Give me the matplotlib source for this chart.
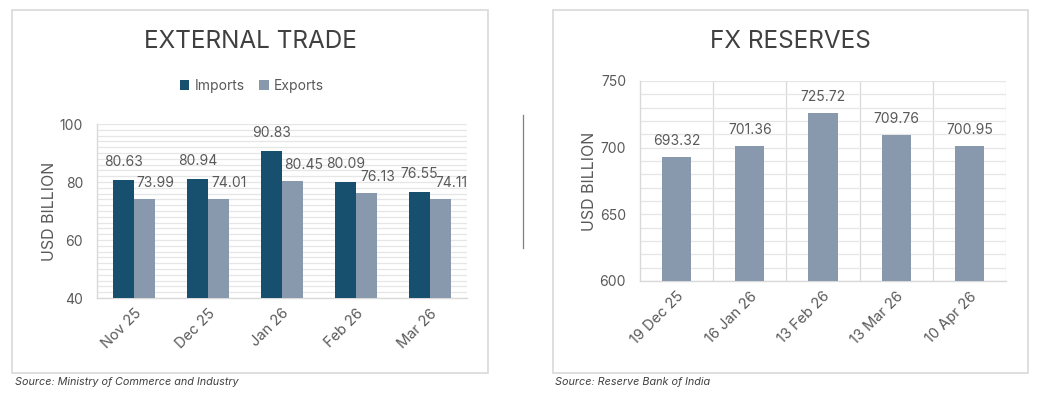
import matplotlib
matplotlib.use("Agg")
import matplotlib.pyplot as plt
from matplotlib.patches import Rectangle
from matplotlib.lines import Line2D
import numpy as np

# External trade (USD billion)
trade_months = ["Nov 25", "Dec 25", "Jan 26", "Feb 26", "Mar 26"]
imports = [80.63, 80.94, 90.83, 80.09, 76.55]
exports = [73.99, 74.01, 80.45, 76.13, 74.11]

# FX reserves (USD billion)
fx_dates = ["19 Dec 25", "16 Jan 26", "13 Feb 26", "13 Mar 26", "10 Apr 26"]
fx_reserves = [693.32, 701.36, 725.72, 709.76, 700.95]

imp_color = "#17506e"
exp_color = "#8899ad"
text_color = "#595959"
grid_color = "#e6e6e6"

plt.rcParams["font.family"] = ["Inter", "DejaVu Sans"]

W, H = 1043, 394
fig = plt.figure(figsize=(W / 100, H / 100), dpi=100)
fig.patch.set_facecolor("white")

def px(x0, y0, x1, y1):
    # pixel box -> figure fraction [left, bottom, width, height]
    return [x0 / W, 1 - y1 / H, (x1 - x0) / W, (y1 - y0) / H]

# panel frames
for x0, x1 in [(12, 488), (553, 1028)]:
    fig.patches.append(Rectangle((x0 / W, 1 - 373 / H), (x1 - x0) / W, 363 / H,
                                 transform=fig.transFigure, fill=False,
                                 edgecolor="#d9d9d9", linewidth=1.2))
# divider
fig.add_artist(Line2D([523 / W, 523 / W], [1 - 248 / H, 1 - 115 / H],
                      transform=fig.transFigure, color="#7f7f7f", linewidth=0.9))

# ---------------- External trade ----------------
ax1 = fig.add_axes(px(97, 124, 467, 298))
x = np.arange(len(trade_months))
bw = 0.285
b1 = ax1.bar(x - bw / 2, imports, bw, color=imp_color, label="Imports", zorder=3)
b2 = ax1.bar(x + bw / 2, exports, bw, color=exp_color, label="Exports", zorder=3)
ax1.set_ylim(40, 100)
ax1.set_xlim(-0.5, len(trade_months) - 0.5)
ax1.set_yticks([40, 60, 80, 100])
ax1.set_yticks(np.arange(40, 101, 2), minor=True)
ax1.grid(axis="y", which="both", color=grid_color, linewidth=0.9, zorder=0)
ax1.set_xticks(x)
ax1.set_xticklabels(trade_months, rotation=45, ha="right", rotation_mode="anchor")
for v, r in zip(imports, b1):
    ax1.annotate(f"{v:.2f}", (r.get_x() + r.get_width() / 2, v), xytext=(0, 11),
                 textcoords="offset pixels", ha="center", va="bottom",
                 fontsize=10, color=text_color)
for v, r in zip(exports, b2):
    ax1.annotate(f"{v:.2f}", (r.get_x() + r.get_width() / 2, v), xytext=(11, 9),
                 textcoords="offset pixels", ha="center", va="bottom",
                 fontsize=10, color=text_color)
ax1.set_ylabel("USD BILLION", fontsize=11.5, color=text_color, labelpad=2)
ax1.legend(loc="center", bbox_to_anchor=(252 / W, 1 - 86 / H),
           bbox_transform=fig.transFigure, ncol=2, frameon=False,
           handlelength=0.7, handleheight=0.7, handletextpad=0.4,
           columnspacing=1.0, fontsize=10, labelcolor=text_color)
fig.text(250 / W, 1 - 42 / H, "EXTERNAL TRADE", ha="center", va="center",
         fontsize=17.5, color="#404040")
fig.text(15 / W, 1 - 382 / H, "Source: Ministry of Commerce and Industry",
         ha="left", va="center", fontsize=7.8, style="italic", color="#404040")

# ---------------- FX reserves ----------------
ax2 = fig.add_axes(px(640, 81, 1006, 281))
x2 = np.arange(len(fx_dates))
b3 = ax2.bar(x2, fx_reserves, 0.4, color=exp_color, zorder=3)
ax2.set_ylim(600, 750)
ax2.set_xlim(-0.5, len(fx_dates) - 0.5)
ax2.set_yticks([600, 650, 700, 750])
ax2.set_yticks(np.arange(600, 751, 10), minor=True)
ax2.grid(axis="y", which="both", color=grid_color, linewidth=0.9, zorder=0)
for b in np.arange(0.5, len(fx_dates), 1.0):
    ax2.axvline(b, color="#d9d9d9", linewidth=0.9, zorder=1)
ax2.set_xticks(x2)
ax2.set_xticklabels(fx_dates, rotation=45, ha="right", rotation_mode="anchor")
for v, r in zip(fx_reserves, b3):
    ax2.annotate(f"{v:.2f}", (r.get_x() + r.get_width() / 2, v), xytext=(0, 9),
                 textcoords="offset pixels", ha="center", va="bottom",
                 fontsize=10, color=text_color)
ax2.set_ylabel("USD BILLION", fontsize=11.5, color=text_color, labelpad=2)
fig.text(790 / W, 1 - 42 / H, "FX RESERVES", ha="center", va="center",
         fontsize=17.5, color="#404040")
fig.text(555 / W, 1 - 382 / H, "Source: Reserve Bank of India",
         ha="left", va="center", fontsize=7.8, style="italic", color="#404040")

for ax in (ax1, ax2):
    for s in ("top", "right"):
        ax.spines[s].set_visible(False)
    for s in ("left", "bottom"):
        ax.spines[s].set_color("#d9d9d9")
        ax.spines[s].set_linewidth(1.0)
    ax.tick_params(axis="both", which="both", length=0, labelsize=10,
                   labelcolor=text_color)
    ax.tick_params(axis="y", pad=10)
    ax.tick_params(axis="x", labelsize=10.5, pad=6)
    ax.set_facecolor("white")

fig.savefig("out.png", dpi=100)
